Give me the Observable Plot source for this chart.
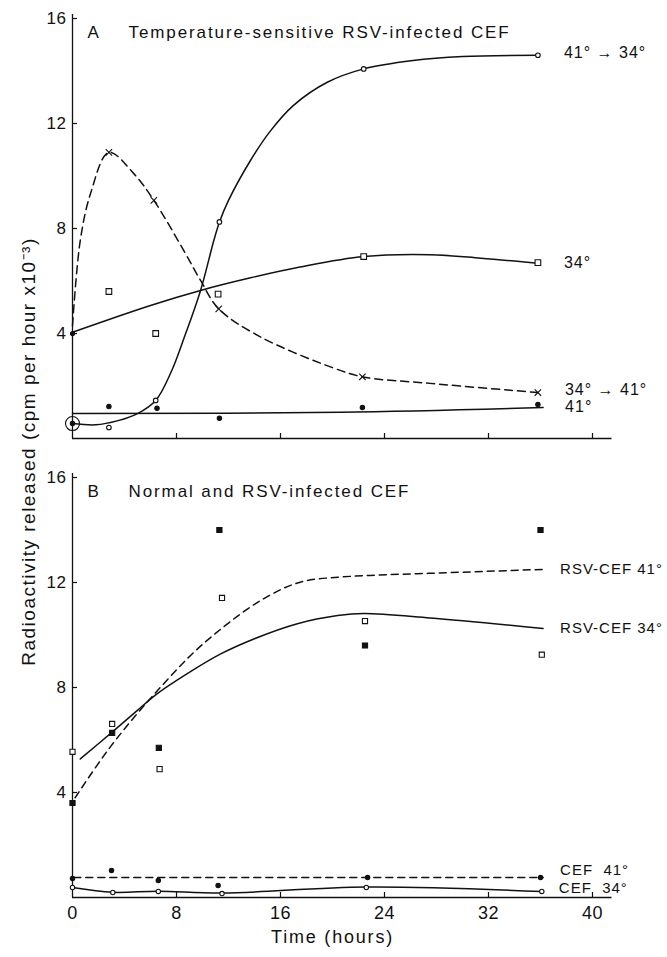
<!DOCTYPE html>
<html>
<head>
<meta charset="utf-8">
<script src="https://cdn.jsdelivr.net/npm/d3@7"></script>
<script src="https://cdn.jsdelivr.net/npm/@observablehq/plot@0.6"></script>
<style>
  html, body { margin: 0; padding: 0; background: #fff; }
  #chart { width: 667px; height: 957px; }
  g[aria-label="y-axis tick label"] text { letter-spacing: 0.5px; }
  g[aria-label="x-axis tick label"] text { letter-spacing: 0.5px; }
  text[aria-label="panel-title"] { letter-spacing: 1.9px; }
  text[aria-label="y-label"] { letter-spacing: 1.5px; }
  text[aria-label="x-label"] { letter-spacing: 1.8px; }
  text[aria-label="series-label"] { letter-spacing: 1px; }
</style>
</head>
<body>
<div id="chart"></div>
<script>
// ---------- tick labels and text ----------
const xTicks = [0, 8, 16, 24, 32, 40];
const yTicks = [4, 8, 12, 16];
const panels = ["A", "B"];
const panelTitles = ["Temperature-sensitive RSV-infected CEF", "Normal and RSV-infected CEF"];
const yLabel = "Radioactivity released (cpm per hour x10⁻³)";
const xLabel = "Time (hours)";

// ---------- series ----------
const seriesNames  = ["A41to34", "A34", "A34to41", "A41", "BRsv41", "BRsv34", "BCef41", "BCef34"];
const seriesPanels = ["A", "A", "A", "A", "B", "B", "B", "B"];
const seriesLabels = ["41° → 34°", "34°", "34° → 41°", "41°", "RSV-CEF 41°", "RSV-CEF 34°", "CEF  41°", "CEF  34°"];

// Panel A: 41° -> 34° (open circles, solid curve)
const a4134T = [2.8, 6.4, 11.3, 22.4, 35.8];
const a4134V = [0.42, 1.45, 8.25, 14.08, 14.6];
const a4134CurveT = [0, 1.8, 3.5, 5, 6.4, 7.6, 8.56, 9.85, 10.87, 11.3, 12.0, 13.7, 15.2, 17.0, 19.6, 22.4, 26.2, 30, 35.8];
const a4134CurveV = [0.57, 0.52, 0.68, 0.95, 1.45, 2.55, 3.8, 5.64, 7.54, 8.24, 9.07, 10.6, 11.7, 12.69, 13.57, 14.08, 14.4, 14.55, 14.6];

// Panel A: 34° (open squares, solid curve)
const a34T = [2.8, 6.4, 11.2, 22.4, 35.8];
const a34V = [5.6, 4.0, 5.5, 6.93, 6.7];
const a34CurveT = [0, 6.0, 9.85, 13.7, 17.5, 22.4, 27.5, 31.4, 35.8];
const a34CurveV = [4.05, 5.07, 5.64, 6.12, 6.53, 6.93, 7.0, 6.87, 6.68];

// Panel A: 34° -> 41° (crosses, dashed curve)
const a3441T = [2.8, 6.26, 11.25, 22.3, 35.8];
const a3441V = [10.9, 9.07, 4.94, 2.35, 1.75];
const a3441CurveT = [0, 0.6, 1.4, 2.8, 4.7, 6.26, 8.56, 9.85, 11.25, 14.5, 20, 22.3, 27.5, 35.8];
const a3441CurveV = [4.3, 7.55, 9.35, 10.9, 10.1, 9.07, 7.16, 6.02, 4.94, 3.86, 2.7, 2.35, 2.1, 1.75];

// Panel A: 41° (filled circles, solid line)
const a41T = [0, 2.8, 6.5, 11.3, 22.3, 35.8];
const a41V = [0.57, 1.22, 1.15, 0.77, 1.18, 1.3];
const a41CurveT = [0, 20.6, 36.2];
const a41CurveV = [0.95, 1.0, 1.18];

// Panel A: common 34° starting value (filled dot)
const aStartT = [0];
const aStartV = [4.0];

// Panel B: RSV-CEF 41° (filled squares, dashed curve)
const bRsv41T = [0, 3.05, 6.64, 11.3, 22.5, 36.0];
const bRsv41V = [3.6, 6.27, 5.7, 14.0, 9.6, 14.0];
const bRsv41CurveT = [0.2, 2.9, 4.85, 6.77, 9.08, 11.6, 14.46, 17.8, 20.4, 22.9, 27.5, 36.2];
const bRsv41CurveV = [3.8, 5.73, 6.93, 8.01, 9.22, 10.3, 11.31, 12.05, 12.2, 12.27, 12.35, 12.5];

// Panel B: RSV-CEF 34° (open squares, solid curve)
const bRsv34T = [0, 3.05, 6.7, 11.5, 22.5, 36.1];
const bRsv34V = [5.55, 6.61, 4.89, 11.41, 10.53, 9.25];
const bRsv34CurveT = [0.6, 3.05, 4.97, 6.5, 8.8, 11.4, 13.95, 17.3, 20.4, 22.4, 27.5, 36.2];
const bRsv34CurveV = [5.28, 6.3, 7.12, 7.76, 8.52, 9.28, 9.85, 10.43, 10.74, 10.82, 10.65, 10.25];

// Panel B: CEF 41° (filled circles, dashed line)
const bCef41T = [0, 3.0, 6.6, 11.2, 22.7, 36.0];
const bCef41V = [0.72, 1.03, 0.65, 0.46, 0.76, 0.76];
const bCef41CurveT = [0.1, 36.2];
const bCef41CurveV = [0.76, 0.76];

// Panel B: CEF 34° (open circles, solid line)
const bCef34T = [0, 3.1, 6.6, 11.5, 22.6, 36.1];
const bCef34V = [0.38, 0.19, 0.23, 0.15, 0.38, 0.23];
const bCef34CurveT = [0, 3.1, 6.6, 11.5, 22.6, 36.1];
const bCef34CurveV = [0.38, 0.2, 0.24, 0.17, 0.4, 0.23];

const pointsT = [a4134T, a34T, a3441T, a41T, bRsv41T, bRsv34T, bCef41T, bCef34T];
const pointsV = [a4134V, a34V, a3441V, a41V, bRsv41V, bRsv34V, bCef41V, bCef34V];
const curvesT = [a4134CurveT, a34CurveT, a3441CurveT, a41CurveT, bRsv41CurveT, bRsv34CurveT, bCef41CurveT, bCef34CurveT];
const curvesV = [a4134CurveV, a34CurveV, a3441CurveV, a41CurveV, bRsv41CurveV, bRsv34CurveV, bCef41CurveV, bCef34CurveV];

// ---------- styles (not data) ----------
const ink = "#111";
const styles = {
  A41to34: {dash: null,  curve: "catmull-rom", symbol: "circle", fill: "white", r: 2.3, dx: 26, dy: -2, fs: 16},
  A34:     {dash: null,  curve: "catmull-rom", symbol: "square", fill: "white", r: 3.2, dx: 26, dy: 0,  fs: 16},
  A34to41: {dash: "8,5", curve: "catmull-rom", symbol: "times",  fill: "none",  r: 3.0, dx: 27, dy: -3, fs: 16},
  A41:     {dash: null,  curve: "catmull-rom", symbol: "circle", fill: ink,     r: 2.2, dx: 22, dy: -1, fs: 16},
  BRsv41:  {dash: "7,5", curve: "monotone-x",  symbol: "square", fill: ink,     r: 2.9, dx: 17, dy: 0,  fs: 15},
  BRsv34:  {dash: null,  curve: "catmull-rom", symbol: "square", fill: "white", r: 2.9, dx: 17, dy: 0,  fs: 15},
  BCef41:  {dash: "7,5", curve: "linear",      symbol: "circle", fill: ink,     r: 2.2, dx: 17, dy: -7, fs: 15},
  BCef34:  {dash: null,  curve: "catmull-rom", symbol: "circle", fill: "white", r: 2.2, dx: 17, dy: -3, fs: 15}
};

const series = seriesNames.map((name, i) => ({
  name,
  panel: seriesPanels[i],
  label: seriesLabels[i],
  points: pointsT[i].map((t, j) => ({panel: seriesPanels[i], t, v: pointsV[i][j]})),
  curve: curvesT[i].map((t, j) => ({panel: seriesPanels[i], t, v: curvesV[i][j]}))
}));

const marks = [];

// axes lines
marks.push(Plot.ruleY([0], {x1: 0, x2: 41.5, stroke: ink, strokeWidth: 1.3}));
marks.push(Plot.ruleX([0], {y1: 0, y2: 16.15, stroke: ink, strokeWidth: 1.3}));
// inward ticks
marks.push(Plot.axisY({ticks: yTicks, tickSize: 5, dx: 5, tickFormat: () => "", label: null, stroke: ink, strokeWidth: 1.2}));
marks.push(Plot.axisX({ticks: xTicks.filter(d => d > 0), tickSize: 5, dy: -5, tickFormat: () => "", label: null, facetAnchor: null, stroke: ink, strokeWidth: 1.2}));
// tick labels
marks.push(Plot.axisY({ticks: yTicks, tickSize: 0, tickPadding: 6, label: null, fontSize: 17, fill: ink}));
marks.push(Plot.axisX({ticks: xTicks, tickSize: 0, tickPadding: 9, label: null, fontSize: 18, fill: ink}));

// series
for (const s of series) {
  const st = styles[s.name];
  marks.push(Plot.line(s.curve, {
    x: "t", y: "v", fy: "panel", curve: st.curve,
    stroke: ink, strokeWidth: 1.5, strokeDasharray: st.dash || undefined
  }));
  marks.push(Plot.dot(s.points, {
    x: "t", y: "v", fy: "panel", symbol: st.symbol, r: st.r,
    fill: st.fill, stroke: ink, strokeWidth: 1.1
  }));
  marks.push(Plot.text([s.curve[s.curve.length - 1]], {
    x: "t", y: "v", fy: "panel", text: () => s.label,
    textAnchor: "start", dx: st.dx, dy: st.dy, fontSize: st.fs, fill: ink,
    ariaLabel: () => "series-label"
  }));
}

// common start value at 34° and circled 41° start value
marks.push(Plot.dot(aStartT.map((t, i) => ({panel: "A", t, v: aStartV[i]})), {
  x: "t", y: "v", fy: "panel", r: 2.6, fill: ink
}));
marks.push(Plot.dot([{panel: "A", t: a41T[0], v: a41V[0]}], {
  x: "t", y: "v", fy: "panel", r: 7, fill: "none", stroke: ink, strokeWidth: 1.1
}));

// panel letters and titles
marks.push(Plot.text(panels, {
  fy: d => d, text: d => d, frameAnchor: "top-left", textAnchor: "start", lineAnchor: "middle",
  dx: 15, dy: 14, fontSize: 17, fill: ink
}));
marks.push(Plot.text(panels, {
  fy: d => d, text: (d, i) => panelTitles[i], frameAnchor: "top-left", textAnchor: "start", lineAnchor: "middle",
  dx: 56, dy: 14, fontSize: 17, fill: ink, ariaLabel: () => "panel-title"
}));

// axis titles
marks.push(Plot.text([panels[0]], {
  fy: d => d, text: () => yLabel, frameAnchor: "bottom-left", textAnchor: "middle", lineAnchor: "middle",
  rotate: -90, dx: -44, dy: 13, fontSize: 19, fill: ink, ariaLabel: () => "y-label"
}));
marks.push(Plot.text([panels[1]], {
  fy: d => d, text: () => xLabel, frameAnchor: "bottom", textAnchor: "middle", lineAnchor: "middle",
  dy: 40, fontSize: 18, fill: ink, ariaLabel: () => "x-label"
}));

const chart = Plot.plot({
  width: 667,
  height: 957,
  marginLeft: 72,
  marginRight: 75,
  marginTop: 18,
  marginBottom: 60,
  x: {domain: [0, 40], axis: null},
  y: {domain: [0, 16], axis: null},
  fy: {domain: panels, axis: null, paddingInner: 0.085, paddingOuter: 0},
  style: {fontFamily: "'Liberation Sans', Arial, sans-serif", fontSize: "17px", color: ink, background: "white"},
  marks
});

document.getElementById("chart").append(chart);
</script>
</body>
</html>
